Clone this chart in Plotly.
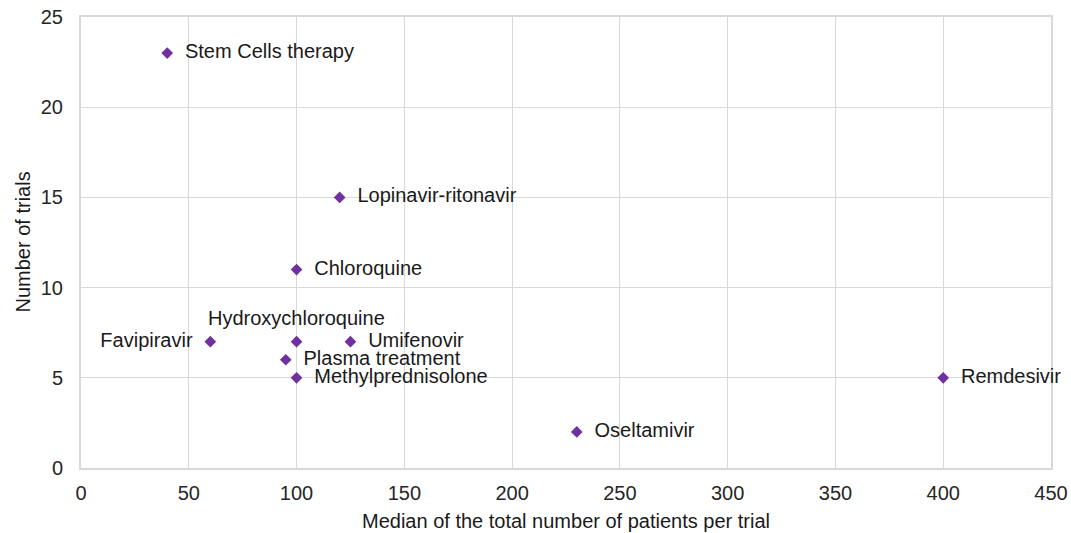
import plotly.graph_objects as go

drugs = ["Stem Cells therapy", "Lopinavir-ritonavir", "Chloroquine", "Favipiravir",
         "Hydroxychloroquine", "Umifenovir", "Plasma treatment", "Methylprednisolone",
         "Remdesivir", "Oseltamivir"]
median_patients = [40, 120, 100, 60, 100, 125, 95, 100, 400, 230]
num_trials = [23, 15, 11, 7, 7, 7, 6, 5, 5, 2]
label_pos = ["middle right", "middle right", "middle right", "middle left",
             "above", "middle right", "middle right", "middle right",
             "middle right", "middle right"]
x_title = "Median of the total number of patients per trial"
y_title = "Number of trials"

FONT = "Liberation Sans, Arial"

text = []
tpos = []
for d, p in zip(drugs, label_pos):
    if p == "middle right":
        text.append("  " + d)
        tpos.append(p)
    elif p == "middle left":
        text.append(d + "  ")
        tpos.append(p)
    else:
        text.append("")
        tpos.append("middle right")

fig = go.Figure(go.Scatter(
    x=median_patients, y=num_trials, mode="markers+text",
    text=text, textposition=tpos,
    marker=dict(symbol="diamond", size=9, color="#7030a0"),
    textfont=dict(family=FONT, size=20, color="#1a1a1a"),
    cliponaxis=False, showlegend=False, hoverinfo="skip",
))

for d, p, x, y in zip(drugs, label_pos, median_patients, num_trials):
    if p == "above":
        fig.add_annotation(x=x, y=y, text=d, showarrow=False, yshift=24,
                           font=dict(family=FONT, size=20, color="#1a1a1a"))

# axis titles
fig.add_annotation(x=0.5, y=0, xref="paper", yref="paper", text=x_title,
                   showarrow=False, yshift=-53, yanchor="middle",
                   font=dict(family=FONT, size=20, color="#1a1a1a"))
fig.add_annotation(x=0, y=0.5, xref="paper", yref="paper", text=y_title,
                   showarrow=False, xshift=-59, xanchor="center", textangle=-90,
                   font=dict(family=FONT, size=20, color="#1a1a1a"))

axis_common = dict(showgrid=True, gridcolor="#d9d9d9", gridwidth=1,
                   showline=True, linecolor="#d9d9d9", linewidth=2, mirror=True,
                   zeroline=False, ticks="", automargin=False, layer="below traces",
                   ticklabeloverflow="allow",
                   tickfont=dict(family=FONT, size=20, color="#262626"))

fig.update_xaxes(range=[0, 450], dtick=50, ticklabelstandoff=6, **axis_common)
fig.update_yaxes(range=[0, 25], dtick=5, ticklabelstandoff=12, **axis_common)

fig.update_layout(
    width=1071, height=533,
    margin=dict(l=81, r=20, t=17, b=65),
    plot_bgcolor="white", paper_bgcolor="white",
)

# remove the page's default body margin so the figure fills the window
fig.write_html("out.html", config={"displayModeBar": False},
               post_script="document.body.style.margin='0';")
